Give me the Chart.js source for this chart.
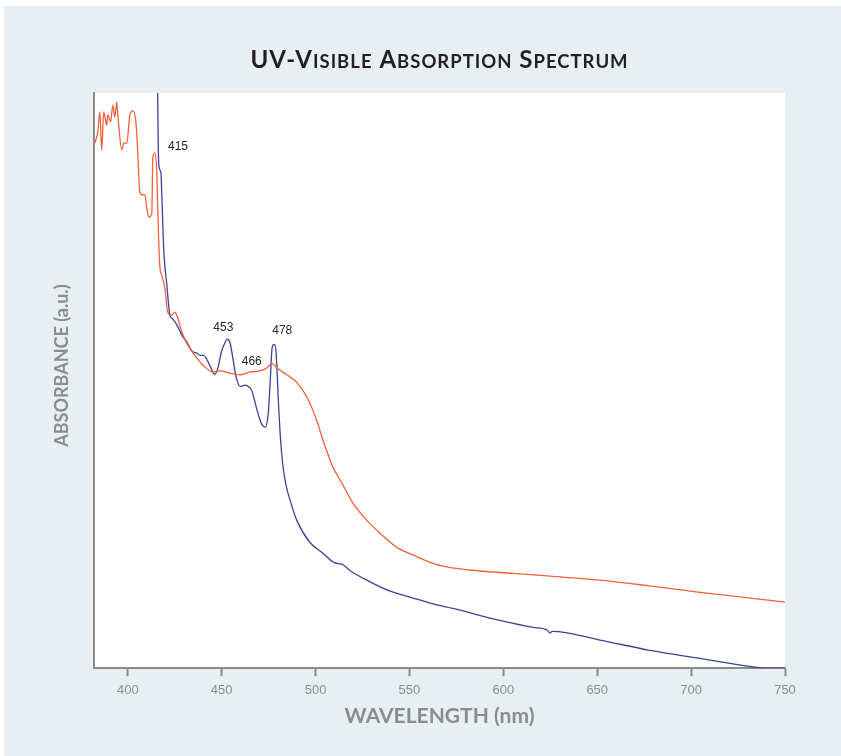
<!DOCTYPE html>
<html>
<head>
<meta charset="utf-8">
<script src="https://cdn.jsdelivr.net/npm/chart.js@4.4.1/dist/chart.umd.min.js"></script>
<style>
  html, body { margin: 0; padding: 0; background: #ffffff; }
  canvas { display: block; }
</style>
</head>
<body>
<canvas id="spectrum" width="841" height="756"></canvas>
<script>
// Wavelength axis tick values (nm)
const xTicks = [400, 450, 500, 550, 600, 650, 700, 750];

// Orange spectrum: wavelength (nm) and absorbance (a.u.)
const orangeWavelength = [
  382.4, 384.0, 385.1, 386.1, 387.2, 388.8, 389.3, 390.9, 392.0, 393.1,
  394.1, 394.7, 396.8, 397.9, 399.5, 401.1, 402.7, 404.3, 405.3, 406.4,
  408.0, 409.1, 410.1, 411.2, 412.8, 413.3, 414.4, 415.4, 416.0, 417.0,
  418.1, 419.7, 421.3, 423.4, 425.0, 426.6, 428.8, 431.4, 435.7, 440.0,
  445.3, 449.0, 454.3, 459.6, 465.0, 470.3, 474.0, 476.7, 479.4, 484.7,
  490.0, 495.4, 500.7, 503.9, 509.2, 514.0, 519.9, 527.3, 534.2, 543.3,
  551.8, 560.9, 569.9, 587.5, 605.1, 624.8, 651.4, 678.1, 704.7, 731.3,
  750.0
];
const orangeAbsorbance = [
  0.913, 0.932, 0.967, 0.901, 0.967, 0.944, 0.962, 0.950, 0.979, 0.958,
  0.984, 0.962, 0.901, 0.913, 0.913, 0.962, 0.969, 0.950, 0.897, 0.828,
  0.823, 0.823, 0.800, 0.784, 0.791, 0.887, 0.896, 0.863, 0.793, 0.701,
  0.683, 0.661, 0.619, 0.614, 0.619, 0.609, 0.584, 0.565, 0.544, 0.527,
  0.515, 0.517, 0.513, 0.510, 0.515, 0.517, 0.522, 0.530, 0.522, 0.510,
  0.497, 0.471, 0.430, 0.397, 0.350, 0.322, 0.287, 0.257, 0.235, 0.210,
  0.197, 0.184, 0.176, 0.169, 0.165, 0.160, 0.153, 0.143, 0.132, 0.122,
  0.115
];

// Blue spectrum: wavelength (nm) and absorbance (a.u.); the 415 nm band runs off scale
const blueWavelength = [
  415.0, 416.5, 417.6, 418.1, 419.2, 420.8, 422.4, 423.4, 426.1, 428.8,
  431.4, 434.6, 436.8, 438.4, 440.4, 443.6, 446.3, 448.1, 449.7, 451.9,
  453.0, 454.5, 456.1, 457.7, 459.9, 462.5, 464.6, 466.0, 468.4, 471.1,
  473.2, 474.8, 475.8, 476.9, 478.0, 479.0, 480.1, 481.2, 482.6, 484.3,
  486.9, 490.0, 496.9, 503.9, 510.3, 514.0, 518.3, 527.3, 538.0, 551.8,
  564.6, 573.1, 598.2, 615.8, 623.5, 624.8, 626.0, 651.4, 678.1, 704.7,
  731.3, 740.4, 750.0
];
const blueAbsorbance = [
  1.300, 0.875, 0.863, 0.823, 0.723, 0.666, 0.614, 0.609, 0.597, 0.579,
  0.567, 0.550, 0.548, 0.544, 0.544, 0.527, 0.511, 0.523, 0.548, 0.567,
  0.572, 0.565, 0.536, 0.506, 0.490, 0.492, 0.489, 0.483, 0.454, 0.426,
  0.419, 0.443, 0.496, 0.558, 0.563, 0.548, 0.471, 0.405, 0.352, 0.318,
  0.287, 0.257, 0.219, 0.200, 0.183, 0.181, 0.170, 0.153, 0.136, 0.122,
  0.110, 0.104, 0.083, 0.071, 0.066, 0.061, 0.064, 0.049, 0.031, 0.017,
  0.003, 0.000, 0.000
];

// Band positions marked on the blue spectrum (nm)
const peakLabels = ['415', '453', '466', '478'];
const peakWavelengths = [415, 453, 466, 478];

const toPoints = (xs, ys) => xs.map((x, i) => ({ x: x, y: ys[i] }));

const AXIS_GREY = '#8b8b8b';
const PANEL = '#e7eff2';

// Page panel and white plotting field
const backdrop = {
  id: 'backdrop',
  beforeDraw(chart) {
    const { ctx, chartArea: a } = chart;
    ctx.save();
    ctx.fillStyle = '#ffffff';
    ctx.fillRect(0, 0, chart.width, chart.height);
    ctx.fillStyle = PANEL;
    ctx.fillRect(4, 6, chart.width - 4, chart.height - 6);
    ctx.fillStyle = '#ffffff';
    ctx.fillRect(a.left, a.top, a.right - a.left, a.bottom - a.top);
    ctx.restore();
  }
};

// Heading set in small capitals
const smallCapsTitle = {
  id: 'smallCapsTitle',
  afterDraw(chart, args, opts) {
    const { ctx, chartArea: a } = chart;
    const runs = [];
    for (const ch of opts.text) {
      const small = ch !== ch.toUpperCase();
      const last = runs[runs.length - 1];
      if (last && last.small === small) last.s += ch.toUpperCase();
      else runs.push({ small: small, s: ch.toUpperCase() });
    }
    ctx.save();
    ctx.fillStyle = opts.color;
    ctx.textBaseline = 'alphabetic';
    ctx.textAlign = 'left';
    ctx.letterSpacing = opts.spacing + 'px';
    let total = 0;
    for (const r of runs) {
      ctx.font = `bold ${r.small ? opts.smallSize : opts.bigSize}px ${opts.family}`;
      r.w = ctx.measureText(r.s).width;
      total += r.w;
    }
    let x = (a.left + a.right) / 2 - total / 2;
    for (const r of runs) {
      ctx.font = `bold ${r.small ? opts.smallSize : opts.bigSize}px ${opts.family}`;
      ctx.fillText(r.s, x, opts.baseline);
      x += r.w;
    }
    ctx.restore();
  }
};

// Vertical axis caption, set a little above the middle of the axis
const yCaption = {
  id: 'yCaption',
  afterDraw(chart, args, opts) {
    const { ctx, chartArea: a } = chart;
    ctx.save();
    ctx.translate(opts.x, (a.top + a.bottom) / 2 + opts.shift);
    ctx.rotate(-Math.PI / 2);
    ctx.font = `bold ${opts.size}px ${opts.family}`;
    ctx.fillStyle = opts.color;
    ctx.textAlign = 'center';
    ctx.textBaseline = 'middle';
    ctx.fillText(opts.text, 0, 0);
    ctx.restore();
  }
};

// Wavelength labels for the blue bands
const bandLabels = {
  id: 'bandLabels',
  afterDatasetsDraw(chart) {
    const { ctx, scales: { x, y } } = chart;
    const offsets = [[22, 54], [-4, -11], [0, -29], [8, -14]];
    ctx.save();
    ctx.font = '12px "Liberation Sans", Arial, sans-serif';
    ctx.fillStyle = '#262626';
    ctx.textAlign = 'center';
    ctx.textBaseline = 'middle';
    peakWavelengths.forEach((wl, i) => {
      const idx = blueWavelength.indexOf(wl);
      const a = Math.min(blueAbsorbance[idx], y.max);
      const px = x.getPixelForValue(wl) + offsets[i][0];
      const py = y.getPixelForValue(a) + offsets[i][1];
      ctx.fillText(peakLabels[i], px, py);
    });
    ctx.restore();
  }
};

new Chart(document.getElementById('spectrum'), {
  type: 'line',
  data: {
    datasets: [
      {
        label: 'Orange spectrum',
        data: toPoints(orangeWavelength, orangeAbsorbance),
        borderColor: '#f0603a',
        borderWidth: 1.3,
        pointRadius: 0,
        cubicInterpolationMode: 'monotone'
      },
      {
        label: 'Blue spectrum',
        data: toPoints(blueWavelength, blueAbsorbance),
        borderColor: '#3e4099',
        borderWidth: 1.3,
        pointRadius: 0,
        cubicInterpolationMode: 'monotone'
      }
    ]
  },
  options: {
    responsive: false,
    animation: false,
    layout: { padding: { left: 94, right: 56, top: 93, bottom: 23 } },
    plugins: {
      legend: { display: false },
      tooltip: { enabled: false },
      title: { display: false },
      smallCapsTitle: {
        text: 'UV-Visible Absorption Spectrum',
        family: 'Lato, "Open Sans", sans-serif',
        bigSize: 24,
        smallSize: 18.5,
        spacing: 1,
        baseline: 68,
        color: '#231f20'
      },
      yCaption: {
        text: 'ABSORBANCE (a.u.)',
        family: 'Lato, sans-serif',
        size: 18,
        color: '#8c8c8c',
        x: 62,
        shift: -15
      }
    },
    scales: {
      x: {
        type: 'linear',
        min: 382,
        max: 750,
        afterBuildTicks(scale) { scale.ticks = xTicks.map(v => ({ value: v })); },
        grid: {
          display: true,
          drawOnChartArea: false,
          drawTicks: true,
          tickLength: 8,
          tickWidth: 2,
          tickColor: AXIS_GREY
        },
        border: { display: true, color: AXIS_GREY, width: 2 },
        ticks: {
          padding: 6,
          color: '#8d8d8d',
          font: { family: '"Liberation Sans", Arial, sans-serif', size: 13 },
          maxRotation: 0
        },
        title: {
          display: true,
          text: 'WAVELENGTH (nm)',
          color: '#8c8c8c',
          font: { family: 'Lato, sans-serif', size: 21, weight: 'bold' },
          padding: { top: 0, bottom: 4 }
        }
      },
      y: {
        type: 'linear',
        min: 0,
        max: 1,
        grid: { display: false, drawTicks: false },
        border: { display: true, color: AXIS_GREY, width: 2 },
        ticks: { display: false },
        title: { display: false }
      }
    }
  },
  plugins: [backdrop, smallCapsTitle, yCaption, bandLabels]
});
</script>
</body>
</html>
